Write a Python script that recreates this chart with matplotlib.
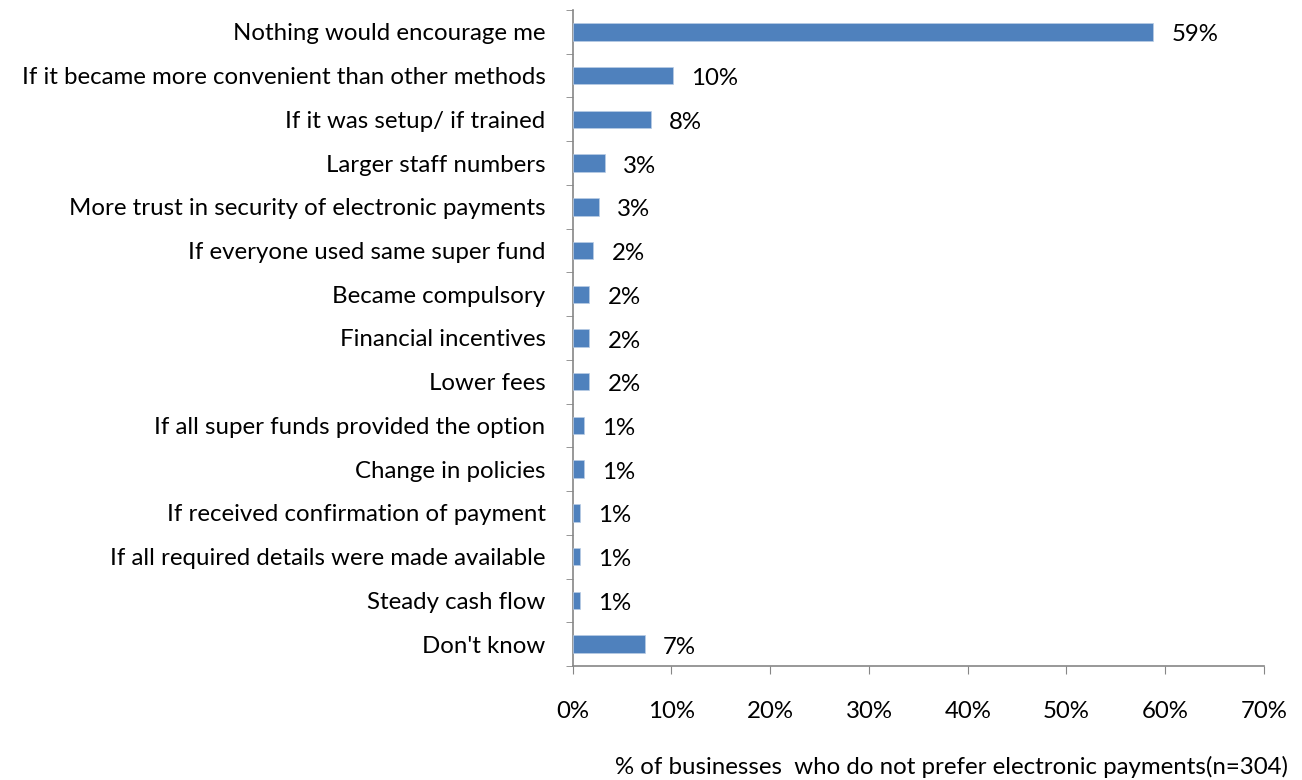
import matplotlib
matplotlib.use("Agg")
import matplotlib.pyplot as plt
from matplotlib.ticker import FuncFormatter

categories = [
    "Nothing would encourage me",
    "If it became more convenient than other methods",
    "If it was setup/ if trained",
    "Larger staff numbers",
    "More trust in security of electronic payments",
    "If everyone used same super fund",
    "Became compulsory",
    "Financial incentives",
    "Lower fees",
    "If all super funds provided the option",
    "Change in policies",
    "If received confirmation of payment",
    "If all required details were made available",
    "Steady cash flow",
    "Don't know",
]
values = [58.8, 10.2, 7.9, 3.3, 2.7, 2.1, 1.7, 1.7, 1.7, 1.1, 1.1, 0.7, 0.7, 0.7, 7.3]
value_labels = ["59%", "10%", "8%", "3%", "3%", "2%", "2%", "2%", "2%", "1%", "1%", "1%", "1%", "1%", "7%"]
xticks = [0, 10, 20, 30, 40, 50, 60, 70]
xlabel = "% of businesses  who do not prefer electronic payments(n=304)"

plt.rcParams['font.family'] = ['Lato', 'DejaVu Sans']
fs = 17.3
axis_col = "#868686"
bar_col = "#4F81BD"

fig = plt.figure(figsize=(13.02, 7.8), dpi=100)
ax = fig.add_axes([572.7/1302, 1 - 666/780, (1264 - 572.7)/1302, 656/780])

n = len(categories)
ypos = list(range(n))
ax.barh(ypos, values, height=0.4, color=bar_col, edgecolor="#B9CDE5", linewidth=0.5, zorder=3)
ax.set_ylim(n - 0.5, -0.5)
ax.set_xlim(0, 70)

for y, v, lab in zip(ypos, values, value_labels):
    ax.annotate(lab, xy=(v, y), xytext=(18, -3), textcoords="offset pixels",
                ha="left", va="center", fontsize=fs, color="black")

ax.set_yticks(ypos)
ax.set_yticklabels(categories, fontsize=fs)
ax.set_yticks([i + 0.5 for i in range(-1, n)], minor=True)
ax.tick_params(axis="y", which="major", length=0, pad=19.5)
ax.tick_params(axis="y", which="minor", length=5, color=axis_col, direction="out")

ax.set_xticks(xticks)
ax.xaxis.set_major_formatter(FuncFormatter(lambda x, p: f"{int(x)}%"))
ax.tick_params(axis="x", length=6, color=axis_col, pad=19, labelsize=fs)

for s in ["top", "right"]:
    ax.spines[s].set_visible(False)
for s in ["left", "bottom"]:
    ax.spines[s].set_color(axis_col)
    ax.spines[s].set_linewidth(1.2)

ax.set_xlabel(xlabel, fontsize=fs)
ax.xaxis.set_label_coords((951 - 572.7)/691.3, -(767 - 666)/656)
ax.xaxis.label.set_va("center")

fig.savefig("out.png", dpi=100)
